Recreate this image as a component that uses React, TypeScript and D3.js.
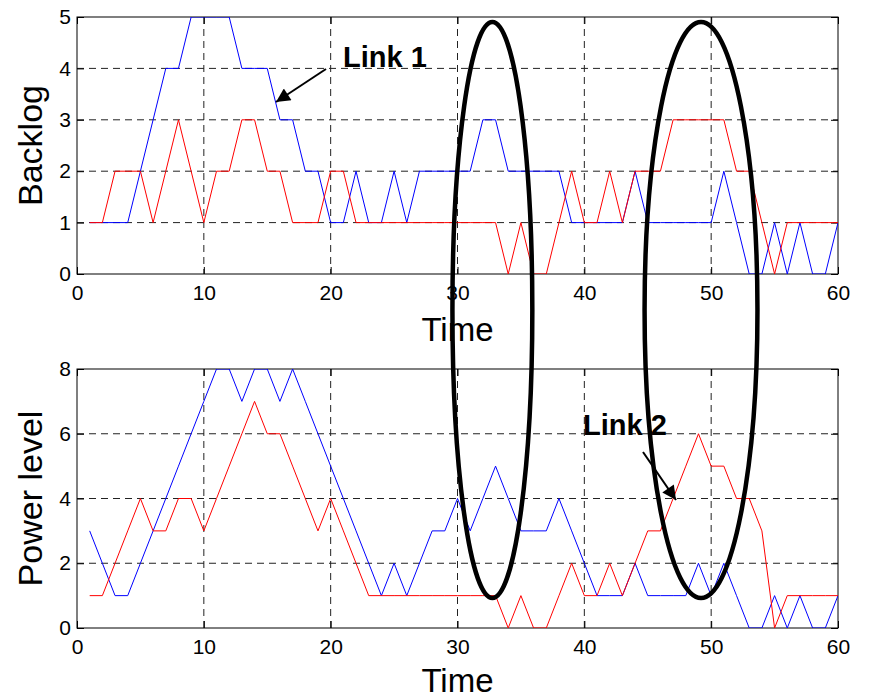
import React, { useEffect, useRef } from 'react';
import * as d3 from 'd3';

// time slots
const time = [1, 2, 3, 4, 5, 6, 7, 8, 9, 10, 11, 12, 13, 14, 15, 16, 17, 18, 19, 20,
  21, 22, 23, 24, 25, 26, 27, 28, 29, 30, 31, 32, 33, 34, 35, 36, 37, 38, 39, 40,
  41, 42, 43, 44, 45, 46, 47, 48, 49, 50, 51, 52, 53, 54, 55, 56, 57, 58, 59, 60];

// backlog (top panel)
const backlogBlue = [1, 1, 1, 1, 2, 3, 4, 4, 5, 5, 5, 5, 4, 4, 4, 3, 3, 2, 2, 1,
  1, 2, 1, 1, 2, 1, 2, 2, 2, 2, 2, 3, 3, 2, 2, 2, 2, 2, 1, 1,
  1, 1, 1, 2, 1, 1, 1, 1, 1, 1, 2, 1, 0, 0, 1, 0, 1, 0, 0, 1];
const backlogRed = [1, 1, 2, 2, 2, 1, 2, 3, 2, 1, 2, 2, 3, 3, 2, 2, 1, 1, 1, 2,
  2, 1, 1, 1, 1, 1, 1, 1, 1, 1, 1, 1, 1, 0, 1, 0, 0, 1, 2, 1,
  1, 2, 1, 2, 2, 2, 3, 3, 3, 3, 3, 2, 2, 1, 0, 1, 1, 1, 1, 1];

// power level (bottom panel)
const powerBlue = [3, 2, 1, 1, 2, 3, 4, 5, 6, 7, 8, 8, 7, 8, 8, 7, 8, 7, 6, 5,
  4, 3, 2, 1, 2, 1, 2, 3, 3, 4, 3, 4, 5, 4, 3, 3, 3, 4, 3, 2,
  1, 1, 1, 2, 1, 1, 1, 1, 2, 1, 2, 1, 0, 0, 1, 0, 1, 0, 0, 1];
const powerRed = [1, 1, 2, 3, 4, 3, 3, 4, 4, 3, 4, 5, 6, 7, 6, 6, 5, 4, 3, 4,
  3, 2, 1, 1, 1, 1, 1, 1, 1, 1, 1, 1, 1, 0, 1, 0, 0, 1, 2, 1,
  1, 2, 1, 2, 3, 3, 4, 5, 6, 5, 5, 4, 4, 3, 0, 1, 1, 1, 1, 1];

const xTicks = [0, 10, 20, 30, 40, 50, 60];
const backlogTicks = [0, 1, 2, 3, 4, 5];
const powerTicks = [0, 2, 4, 6, 8];

const FONT = '"Liberation Sans", Arial, Helvetica, sans-serif';

function App() {
  const ref = useRef(null);

  useEffect(function () {
    const svg = d3.select(ref.current);
    svg.selectAll('*').remove();

    const left = 77, right = 838;
    const x = d3.scaleLinear().domain([0, 60]).range([left, right]);
    const fmt = d3.format('d');

    const defs = svg.append('defs');
    defs.append('marker')
      .attr('id', 'arrowHead')
      .attr('viewBox', '0 0 10 10')
      .attr('refX', 10).attr('refY', 5)
      .attr('markerWidth', 18).attr('markerHeight', 14)
      .attr('markerUnits', 'userSpaceOnUse')
      .attr('orient', 'auto')
      .append('path')
      .attr('d', 'M0,0 L10,5 L0,10 Z')
      .attr('fill', 'black');

    function drawPanel(top, bottom, yMax, yTicks, blue, red, yLabel, timeY, id) {
      const y = d3.scaleLinear().domain([0, yMax]).range([bottom, top]);
      const g = svg.append('g');

      defs.append('clipPath').attr('id', id)
        .append('rect')
        .attr('x', left).attr('y', top)
        .attr('width', right - left).attr('height', bottom - top);

      // dashed grid
      g.append('g').selectAll('line')
        .data(xTicks.slice(1, -1))
        .join('line')
        .attr('x1', d => x(d)).attr('x2', d => x(d))
        .attr('y1', top).attr('y2', bottom)
        .attr('stroke', '#222').attr('stroke-width', 1)
        .attr('stroke-dasharray', '7,5');
      g.append('g').selectAll('line')
        .data(yTicks.slice(1, -1))
        .join('line')
        .attr('y1', d => y(d)).attr('y2', d => y(d))
        .attr('x1', left).attr('x2', right)
        .attr('stroke', '#222').attr('stroke-width', 1)
        .attr('stroke-dasharray', '7,5');

      // axes, ticks pointing inward like matlab
      const xAxis = g.append('g')
        .attr('transform', 'translate(0,' + bottom + ')')
        .call(d3.axisBottom(x).tickValues(xTicks).tickFormat(fmt).tickSize(-7).tickSizeOuter(0).tickPadding(11));
      const yAxis = g.append('g')
        .attr('transform', 'translate(' + left + ',0)')
        .call(d3.axisLeft(y).tickValues(yTicks).tickFormat(fmt).tickSize(-7).tickSizeOuter(0).tickPadding(6));
      g.append('g')
        .attr('transform', 'translate(0,' + top + ')')
        .call(d3.axisTop(x).tickValues(xTicks).tickSize(-7).tickSizeOuter(0).tickFormat(() => ''));
      g.append('g')
        .attr('transform', 'translate(' + right + ',0)')
        .call(d3.axisRight(y).tickValues(yTicks).tickSize(-7).tickSizeOuter(0).tickFormat(() => ''));
      g.selectAll('.domain').remove();
      g.selectAll('.tick line').attr('stroke', 'black');
      [xAxis, yAxis].forEach(a => a.selectAll('text')
        .attr('font-family', FONT).attr('font-size', 21).attr('fill', 'black'));

      g.append('rect')
        .attr('x', left).attr('y', top)
        .attr('width', right - left).attr('height', bottom - top)
        .attr('fill', 'none').attr('stroke', 'black').attr('stroke-width', 1);

      const line = d3.line().x((d, i) => x(time[i])).y(d => y(d));
      const lines = g.append('g').attr('clip-path', 'url(#' + id + ')');
      lines.append('path').datum(blue)
        .attr('d', line).attr('fill', 'none').attr('stroke', '#0000ff').attr('stroke-width', 1);
      lines.append('path').datum(red)
        .attr('d', line).attr('fill', 'none').attr('stroke', '#ff0000').attr('stroke-width', 1);

      // labels
      g.append('text')
        .attr('x', x(30)).attr('y', timeY)
        .attr('text-anchor', 'middle')
        .attr('font-family', FONT).attr('font-size', 33)
        .text('Time');
      g.append('text')
        .attr('transform', 'translate(42,' + (top + bottom) / 2 + ') rotate(-90)')
        .attr('text-anchor', 'middle')
        .attr('font-family', FONT).attr('font-size', 34)
        .text(yLabel);
    }

    drawPanel(17, 274, 5, backlogTicks, backlogBlue, backlogRed, 'Backlog', 341, 'clipTop');
    drawPanel(369, 628, 8, powerTicks, powerBlue, powerRed, 'Power level', 692, 'clipBottom');

    // annotations
    svg.append('text')
      .attr('x', 343).attr('y', 67)
      .attr('font-family', FONT).attr('font-size', 29).attr('font-weight', 'bold')
      .text('Link 1');
    svg.append('line')
      .attr('x1', 326).attr('y1', 69).attr('x2', 276).attr('y2', 102)
      .attr('stroke', 'black').attr('stroke-width', 2)
      .attr('marker-end', 'url(#arrowHead)');

    svg.append('text')
      .attr('x', 583).attr('y', 435)
      .attr('font-family', FONT).attr('font-size', 29).attr('font-weight', 'bold')
      .text('Link 2');
    svg.append('line')
      .attr('x1', 643).attr('y1', 452).attr('x2', 676).attr('y2', 500)
      .attr('stroke', 'black').attr('stroke-width', 2)
      .attr('marker-end', 'url(#arrowHead)');

    // highlight ellipses (centre/width in time units)
    const ellipses = [{ t: 32.75, w: 3.15 }, { t: 49.2, w: 4.45 }];
    svg.append('g').selectAll('ellipse')
      .data(ellipses)
      .join('ellipse')
      .attr('cx', d => x(d.t)).attr('cy', 310)
      .attr('rx', d => x(d.w) - x(0)).attr('ry', 288)
      .attr('fill', 'none').attr('stroke', 'black').attr('stroke-width', 4.5);
  });

  return (
    <svg ref={ref} width={870} height={699}
      style={{ position: 'absolute', left: 0, top: 0, background: 'white' }}></svg>
  );
}

export default App;
